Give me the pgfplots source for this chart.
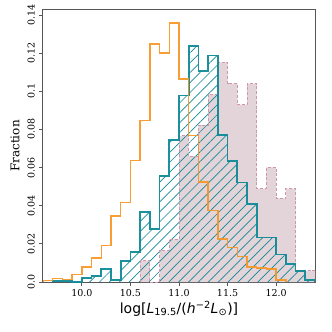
\documentclass[border=0pt]{standalone}
\usepackage{pgfplots}
\pgfplotsset{compat=1.18}
\usetikzlibrary{patterns.meta}
\usepackage{fontspec}
\setmainfont{DejaVu Serif}
\newfontfamily\dvsans{DejaVu Sans}
\definecolor{horange}{RGB}{247,148,30}
\definecolor{hteal}{RGB}{16,138,152}
\definecolor{hpinkfill}{RGB}{226,212,216}
\definecolor{hpinkedge}{RGB}{208,150,172}
\definecolor{framegray}{RGB}{85,85,85}
\begin{document}
\begin{tikzpicture}
\begin{axis}[
  scale only axis, width=272pt, height=272pt,
  xmin=9.6, xmax=12.4, ymin=0, ymax=0.1426,
  xtick={10,10.5,11,11.5,12}, xticklabels={10.0,10.5,11.0,11.5,12.0},
  ytick={0,0.02,0.04,0.06,0.08,0.1,0.12,0.14},
  yticklabels={0.0,0.02,0.04,0.06,0.08,0.1,0.12,0.14},
  tick align=outside, tick pos=left, major tick length=3.5pt,
  tick style={framegray, line width=0.8pt},
  axis line style={framegray, line width=1pt},
  /pgf/number format/assume math mode=true,
  yticklabel style={rotate=90, anchor=south, inner ysep=4.5pt, font=\fontsize{9.5}{10}\selectfont},
  xticklabel style={font=\fontsize{9.5}{10}\selectfont},
  ylabel={Fraction}, ylabel style={font=\fontsize{12}{13}\selectfont},
  xlabel={{\dvsans log[\textit{L}\textsubscript{19.5}/(\textit{h}\textsuperscript{−2}\textit{L}\textsubscript{⊙})]}},
  xlabel style={font=\fontsize{14}{15}\selectfont, yshift=2pt},
  clip=true,
]
% pink filled (dashed edge)
\addplot[const plot, fill=hpinkfill, draw=none] coordinates {
(10.6,0) (10.6,0.0112) (10.7,0) (10.8,0.0164) (10.9,0.0224) (11.0,0.0766) (11.1,0.066) (11.2,0.0823) (11.3,0.0984) (11.4,0.115) (11.5,0.104) (11.6,0.093) (11.7,0.104) (11.8,0.049) (11.9,0.0601) (12.0,0.0438) (12.1,0.049) (12.2,0.0058) (12.3,0.0058) (12.4,0.0058)
} \closedcycle;
% teal hatch
\addplot[const plot, draw=none, pattern={Lines[angle=45,distance=7pt,line width=0.7pt]}, pattern color=hteal] coordinates {
(9.7,0) (9.7,0.0007) (9.8,0.0007) (9.9,0) (10.0,0.002) (10.1,0.0033) (10.2,0.0068) (10.3,0.001) (10.4,0.011) (10.5,0.0158) (10.6,0.0366) (10.7,0.0278) (10.8,0.0556) (10.9,0.0745) (11.0,0.0978) (11.1,0.1236) (11.2,0.1105) (11.3,0.1188) (11.4,0.0772) (11.5,0.0635) (11.6,0.0522) (11.7,0.041) (11.8,0.0234) (11.9,0.0234) (12.0,0.0144) (12.1,0.0093) (12.2,0.0058) (12.3,0.001) (12.4,0.001)
} \closedcycle;
% pink dashed edge
\addplot[const plot, draw=hpinkedge, line width=0.9pt, dash pattern=on 3pt off 1.8pt] coordinates {
(10.6,0) (10.6,0.0112) (10.7,0) (10.8,0.0164) (10.9,0.0224) (11.0,0.0766) (11.1,0.066) (11.2,0.0823) (11.3,0.0984) (11.4,0.115) (11.5,0.104) (11.6,0.093) (11.7,0.104) (11.8,0.049) (11.9,0.0601) (12.0,0.0438) (12.1,0.049) (12.2,0.0058) (12.3,0.0058) (12.4,0.0058) (12.4,0)
};
% teal edge
\addplot[const plot, draw=hteal, line width=1.7pt, draw opacity=0.95] coordinates {
(9.7,0) (9.7,0.0007) (9.8,0.0007) (9.9,0) (10.0,0.002) (10.1,0.0033) (10.2,0.0068) (10.3,0.001) (10.4,0.011) (10.5,0.0158) (10.6,0.0366) (10.7,0.0278) (10.8,0.0556) (10.9,0.0745) (11.0,0.0978) (11.1,0.1236) (11.2,0.1105) (11.3,0.1188) (11.4,0.0772) (11.5,0.0635) (11.6,0.0522) (11.7,0.041) (11.8,0.0234) (11.9,0.0234) (12.0,0.0144) (12.1,0.0093) (12.2,0.0058) (12.3,0.001) (12.4,0.001) (12.4,0)
};
% orange step
\addplot[const plot, draw=horange, line width=1.3pt, draw opacity=0.9] coordinates {
(9.6,0) (9.6,0.0007) (9.7,0.0019) (9.8,0.0014) (9.9,0.004) (10.0,0.0079) (10.1,0.0126) (10.2,0.0192) (10.3,0.0346) (10.4,0.0417) (10.5,0.0636) (10.6,0.0845) (10.7,0.1248) (10.8,0.12) (10.9,0.1358) (11.0,0.1065) (11.1,0.0768) (11.2,0.0525) (11.3,0.0375) (11.4,0.0226) (11.5,0.018) (11.6,0.0135) (11.7,0.0078) (11.8,0.0073) (11.9,0.0068) (12.0,0.001) (12.1,0.001) (12.1,0)
};
\end{axis}
\pgfresetboundingbox
\useasboundingbox ([shift={(-43pt,-50pt)}]current axis.south west) rectangle ([shift={(17pt,10pt)}]current axis.north east);
\end{tikzpicture}
\end{document}
